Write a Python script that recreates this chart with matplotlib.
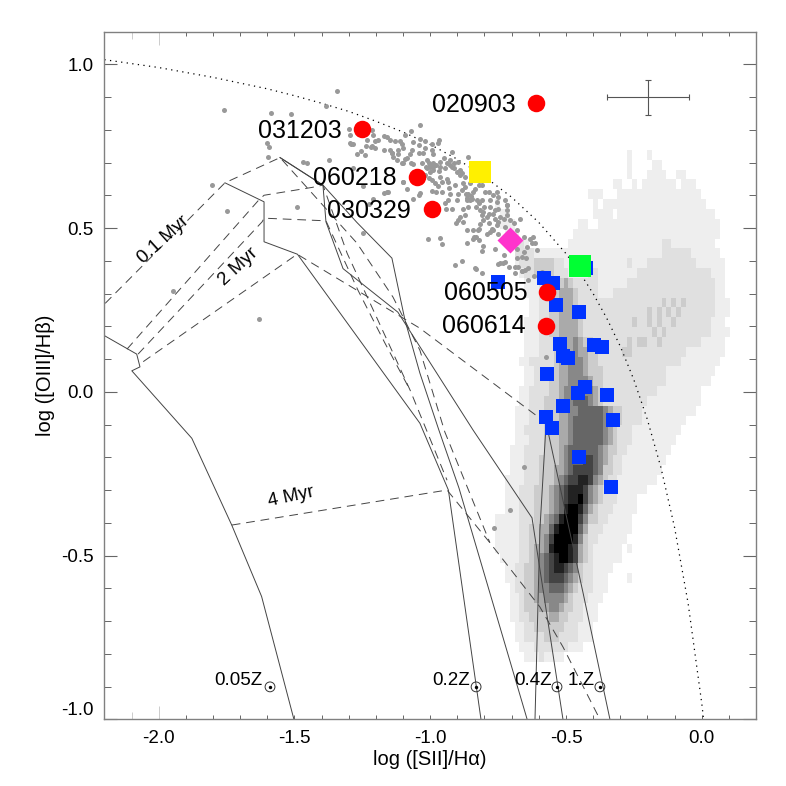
import matplotlib
matplotlib.use("Agg")
import matplotlib.pyplot as plt
from matplotlib.colors import ListedColormap
import numpy as np

plt.rcParams["font.family"] = ["Liberation Sans", "DejaVu Sans"]

grid_x = (-0.761, 0.139)
grid_y = (-0.943, 0.737)
grid_levels = ["#ffffff", "#eeeeee", "#e0e0e0", "#cccccc", "#aaaaaa",
               "#888888", "#666666", "#444444", "#222222", "#000000"]
grid_rows = [
    "0000000000 0000000000 0000000100 0100000000 0000000000",
    "0000000000 0000000000 0000000100 0011000000 0000000000",
    "0000000000 0000000000 0000000100 0111100110 0000000000",
    "0000000000 0000000000 0000110010 1111111011 1000000000",
    "0000000000 0000000001 1100011111 1111111111 1100000000",
    "1000000000 0000000000 1011111111 1111111111 1110000000",
    "0110000000 0000000000 1111011111 1111111111 1111100000",
    "0111000000 0000000110 0111111111 1111111111 1111110000",
    "0011100000 0000001111 1111111111 1111111111 1111110000",
    "0012221000 0000011111 1111111111 1111221111 1111100000",
    "0000222211 1111111111 1111111111 1111222222 1111110000",
    "0000122233 3322111111 1111111211 1222222222 2111111000",
    "0000012233 3322211112 2111111112 2222222222 2222111000",
    "0000001112 2233432222 2111111222 2222222222 2222211000",
    "0000001112 2334443222 2111222222 2222222222 2222211000",
    "0000000112 2334443222 2222222222 2222323232 2222211100",
    "0000000112 2334443322 2222222222 2323232322 2222211100",
    "0000001112 2334444322 2222222232 2323223222 2222111000",
    "0000001112 2334444322 2222222222 2232322222 2222111100",
    "0000001112 2233445433 2222222323 3223222222 2211111000",
    "0000001112 2233445443 3222223322 2222222221 1111111000",
    "0000011222 2234455543 3222222222 2222222211 1111110000",
    "0000001122 2234455543 3322222222 2222211111 1111100000",
    "0000001122 2334455554 3322222222 2222211111 1111000000",
    "0000011222 2334556655 4322222222 2221111111 1100000000",
    "0000011222 3334556665 4322222222 2111111111 1100000000",
    "0000111222 3334455666 6654332222 1111111111 1000000000",
    "0000111222 3334456666 6654332222 1111111110 0000000000",
    "0000112222 3334456666 6654322211 1111111100 0000000000",
    "0000111222 3334456666 6654322211 1111111000 0000000000",
    "0001112222 3334566666 6543322111 1111110000 0000000000",
    "0001112223 3334566677 6543221111 1111100000 0000000000",
    "0001112223 3344567777 6533221111 1111000000 0000000000",
    "0011112223 3345677887 5432211111 1110000000 0000000000",
    "0011122233 3456788875 4322211111 1000000000 0000000000",
    "0011122233 3456788975 4322211110 0000000000 0000000000",
    "0011122233 3456899864 3222111110 0000000000 0000000000",
    "1111122233 4568999753 3221111100 0000000000 0000000000",
    "1111122334 4689999642 2211111100 0000000000 0000000000",
    "1111122334 5799998532 2111111000 0000000000 0000000000",
    "1111122344 5899987432 1111110100 0000000000 0000000000",
    "0111122345 6789987432 1111110000 0000000000 0000000000",
    "0011223345 6788765322 1111000000 0000000000 0000000000",
    "0011223345 6777654322 1110000100 0000000000 0000000000",
    "0001223345 5666543222 1110000000 0000000000 0000000000",
    "0001123344 5555432221 1100000000 0000000000 0000000000",
    "0001123334 4554332211 1000000000 0000000000 0000000000",
    "0001122333 3443322211 1000000000 0000000000 0000000000",
    "0000112233 3333222111 0000000000 0000000000 0000000000",
    "0000112222 3332222111 0000000000 0000000000 0000000000",
    "0000011122 2222211100 0000000000 0000000000 0000000000",
    "0000001112 1111000000 0000000000 0000000000 0000000000",
    "0000000000 0000000000 0000000000 0000000000 0000000000",
    "0000000000 0000000000 0000000000 0000000000 0000000000",
    "0000000000 0000000000 0000000000 0000000000 0000000000",
    "0000000000 0000000000 0000000000 0000000000 0000000000",
]

# grey star-forming dots
dots_x = [-1.037, -1.071, -1.092, -1.172, -1.213, -1.211, -1.203, -1.148, -1.129, -1.111, -1.105, -1.099,
          -1.062, -1.037, -0.966, -0.970, -0.992, -1.019, -1.068, -1.172, -1.219, -1.254, -1.270, -1.291,
          -1.141, -1.138, -1.117, -1.043, -1.025, -0.994, -0.988, -0.920, -1.086, -1.121, -1.102, -1.062,
          -1.013, -0.951, -0.927, -0.896, -0.859, -0.990, -1.003, -1.015, -1.000, -0.988, -0.963, -0.945,
          -0.927, -0.914, -0.902, -0.890, -0.884, -0.966, -1.000, -1.006, -0.994, -0.963, -0.939, -0.957,
          -0.908, -0.929, -0.970, -0.957, -0.994, -0.978, -1.037, -1.043, -1.062, -1.084, -1.099, -1.154,
          -1.172, -1.209, -1.224, -0.878, -0.871, -0.884, -0.896, -0.859, -0.865, -0.850, -0.855, -0.841,
          -0.810, -0.785, -0.767, -0.828, -0.810, -0.822, -0.779, -0.755, -0.749, -0.779, -0.816, -0.804,
          -0.785, -0.792, -0.810, -0.878, -0.933, -0.945, -0.943, -0.890, -0.896, -0.878, -0.904, -0.865,
          -0.843, -0.822, -0.816, -0.785, -0.761, -0.749, -0.730, -0.718, -0.706, -0.755, -0.767, -0.779,
          -0.792, -0.724, -0.831, -0.841, -0.822, -0.863, -0.963, -1.009, -0.957, -0.804, -0.808, -0.761,
          -0.730, -0.706, -0.681, -0.656, -0.663, -0.648, -0.681, -0.675, -0.687, -0.708, -0.724, -0.733,
          -0.749, -0.884, -0.907, -0.831, -0.809, -0.742, -0.650, -0.663, -0.616, -0.638, -0.620, -0.632,
          -1.343, -1.384, -1.759, -1.586, -1.513, -1.299, -1.295, -1.601, -1.594, -1.295, -1.285, -1.236,
          -1.214, -1.597, -1.804, -1.748, -1.491, -1.947, -1.630, -1.469, -1.454, -1.373, -1.284, -1.248,
          -1.203, -1.141, -1.104, -1.070, -1.100, -1.159, -1.248, -0.573, -0.835, -0.742, -0.688, -0.640,
          -0.663, -0.614, -0.607, -0.644, -0.588, -0.669, -0.717, -0.750, -0.655, -0.706, -0.765,
          -0.868, -0.863, -0.846, -0.835, -0.853, -0.822, -0.798, -0.755, -0.724, -0.718, -0.718, -0.742,
          -0.769, -0.800, -0.831, -0.806, -0.825, -0.838, -0.773, -0.749, -0.693, -0.681, -0.656, -0.626,
          -0.761, -1.000, -1.010, -0.988, -0.978, -0.963, -0.939, -0.920, -0.912, -0.890, -0.871, -0.933,
          -0.982, -1.019, -1.031, -1.074, -1.092, -1.117, -1.043, -1.019, -1.148, -1.191, -1.234, -1.240,
          -1.160, -0.927, -0.902, -0.920, -0.859, -0.871]
dots_y = [0.814, 0.796, 0.783, 0.780, 0.798, 0.783, 0.766, 0.768, 0.766, 0.766, 0.756, 0.743,
          0.763, 0.773, 0.768, 0.760, 0.756, 0.743, 0.739, 0.737, 0.748, 0.735, 0.727, 0.758,
          0.729, 0.717, 0.737, 0.730, 0.729, 0.737, 0.727, 0.732, 0.715, 0.707, 0.699, 0.695,
          0.707, 0.714, 0.707, 0.702, 0.717, 0.699, 0.697, 0.685, 0.687, 0.687, 0.687, 0.682,
          0.692, 0.682, 0.671, 0.676, 0.668, 0.674, 0.671, 0.654, 0.646, 0.656, 0.651, 0.641,
          0.631, 0.623, 0.629, 0.610, 0.613, 0.610, 0.607, 0.600, 0.590, 0.618, 0.641, 0.610,
          0.607, 0.589, 0.572, 0.636, 0.626, 0.615, 0.605, 0.605, 0.593, 0.597, 0.585, 0.610,
          0.631, 0.610, 0.600, 0.585, 0.585, 0.575, 0.585, 0.580, 0.559, 0.563, 0.554, 0.549,
          0.544, 0.534, 0.539, 0.559, 0.585, 0.577, 0.559, 0.534, 0.524, 0.519, 0.514, 0.493,
          0.495, 0.498, 0.512, 0.514, 0.529, 0.519, 0.526, 0.539, 0.524, 0.509, 0.493, 0.488,
          0.481, 0.504, 0.473, 0.465, 0.463, 0.453, 0.471, 0.467, 0.450, 0.445, 0.430, 0.437,
          0.419, 0.442, 0.437, 0.427, 0.410, 0.407, 0.407, 0.381, 0.381, 0.381, 0.397, 0.392,
          0.390, 0.400, 0.387, 0.374, 0.363, 0.331, 0.371, 0.368, 0.354, 0.341, 0.473, 0.465,
          0.918, 0.872, 0.859, 0.851, 0.847, 0.801, 0.783, 0.760, 0.746, 0.759, 0.757, 0.750,
          0.750, 0.716, 0.631, 0.551, 0.563, 0.307, 0.222, 0.703, 0.698, 0.709, 0.682, 0.628,
          0.743, 0.728, 0.700, 0.700, 0.640, 0.609, 0.485, 0.106, 0.377, 0.392, 0.362, 0.377,
          0.370, 0.453, 0.432, 0.442, 0.365, 0.527, 0.570, 0.594, -0.229, -0.361, -0.416,
          0.603, 0.587, 0.590, 0.620, 0.636, 0.631, 0.610, 0.610, 0.585, 0.570, 0.554, 0.534,
          0.542, 0.563, 0.563, 0.524, 0.493, 0.473, 0.498, 0.483, 0.514, 0.493, 0.473, 0.453,
          0.554, 0.692, 0.682, 0.676, 0.692, 0.702, 0.699, 0.687, 0.697, 0.661, 0.656, 0.641,
          0.636, 0.661, 0.697, 0.727, 0.712, 0.727, 0.753, 0.766, 0.737, 0.768, 0.768, 0.722,
          0.778, 0.605, 0.585, 0.559, 0.565, 0.539]

# blue squares
blue_x = [-0.749, -0.581, -0.547, -0.427, -0.538, -0.453, -0.522, -0.397, -0.367, -0.512, -0.491,
          -0.570, -0.429, -0.457, -0.350, -0.510, -0.575, -0.328, -0.552, -0.452, -0.335]
blue_y = [0.335, 0.348, 0.333, 0.377, 0.264, 0.243, 0.145, 0.143, 0.136, 0.109, 0.104,
          0.053, 0.015, -0.005, -0.010, -0.043, -0.076, -0.087, -0.110, -0.198, -0.292]

# GRB hosts
grb_names = ["020903", "031203", "060218", "030329", "060505", "060614"]
grb_x = [-0.612, -1.253, -1.049, -0.995, -0.568, -0.573]
grb_y = [0.881, 0.801, 0.657, 0.557, 0.304, 0.202]
grb_label_x = [-0.684, -1.325, -1.122, -1.071, -0.640, -0.647]
grb_label_y = [0.875, 0.795, 0.652, 0.551, 0.301, 0.200]

yellow_x, yellow_y = -0.818, 0.672
magenta_x, magenta_y = -0.706, 0.463
green_x, green_y = -0.448, 0.385

err_x, err_y = -0.198, 0.899
err_dx, err_dy = 0.151, 0.054

# maximum starburst line
limit_x = [-2.2, -2.0, -1.8, -1.6, -1.5, -1.4, -1.3, -1.2, -1.1, -1.0, -0.9, -0.8, -0.7, -0.6, -0.5,
           -0.45, -0.4, -0.35, -0.3, -0.25, -0.2, -0.15, -0.1, -0.05, 0.0, 0.007]
limit_y = [1.014, 0.990, 0.960, 0.925, 0.904, 0.881, 0.856, 0.826, 0.793, 0.755, 0.710, 0.657, 0.594, 0.517, 0.422,
           0.365, 0.300, 0.225, 0.139, 0.037, -0.085, -0.232, -0.414, -0.646, -0.950, -1.0]

# model grid, solid = metallicity tracks
tracks = [
    ([-2.197, -2.081, -2.069, -2.099, -1.878, -1.731, -1.621, -1.502],
     [0.170, 0.115, 0.076, 0.064, -0.142, -0.407, -0.625, -1.0]),
    ([-1.756, -1.612, -1.612, -1.489, -1.038, -0.933, -0.813],
     [0.638, 0.580, 0.458, 0.420, -0.096, -0.300, -1.0]),
    ([-1.553, -1.395, -1.384, -1.321, -1.119, -0.842, -0.625, -0.511],
     [0.715, 0.631, 0.519, 0.376, 0.243, -0.117, -0.385, -1.0]),
    ([-1.553, -1.395, -1.270, -1.141, -1.093, -1.038, -0.968, -0.894, -0.643],
     [0.715, 0.631, 0.517, 0.408, 0.219, 0.057, -0.117, -0.294, -1.0]),
    ([-0.573, -0.596, -0.614], [-0.095, -0.422, -1.0]),
    ([-0.573, -0.437, -0.338], [-0.095, -0.614, -1.0]),
]

# dashed = isochrones
isochrones = [
    ([-2.197, -1.756, -1.553, -1.270, -1.137, -1.038, -0.946, -0.780],
     [0.270, 0.638, 0.715, 0.454, 0.289, 0.127, -0.123, -0.461]),
    ([-2.117, -1.634, -1.612, -1.435, -1.395, -1.306, -1.074, -0.938],
     [0.130, 0.583, 0.600, 0.624, 0.631, 0.423, 0.005, -0.270]),
    ([-2.076, -1.619, -1.612, -1.384, -1.266, -1.167, -1.074],
     [0.115, 0.519, 0.530, 0.522, 0.310, 0.149, 0.005]),
    ([-2.057, -1.490, -1.038, -0.573], [0.092, 0.420, 0.194, -0.095]),
    ([-1.731, -0.938, -0.780, -0.596, -0.511, -0.375], [-0.407, -0.300, -0.461, -0.657, -0.779, -1.0]),
]

age_labels = ["0.1 Myr", "2 Myr", "4 Myr"]
age_x = [-1.984, -1.708, -1.513]
age_y = [0.463, 0.383, -0.321]
age_rot = [42, 43, 12]

metal_labels = ["0.05Z", "0.2Z", "0.4Z", "1.Z"]
metal_x = [-1.590, -0.831, -0.533, -0.375]
metal_y = [-0.901, -0.901, -0.901, -0.901]
metal_label_x = [-1.616, -0.853, -0.553, -0.394]
metal_label_y = [-0.883, -0.883, -0.883, -0.883]

fig = plt.figure(figsize=(7.86, 7.86), dpi=100)
ax = fig.add_axes([104.4 / 786, 1 - 719.3 / 786, (756 - 104.4) / 786, (719.3 - 31.5) / 786])

grid = np.array([[int(c) for c in row.replace(" ", "")] for row in grid_rows])
ax.imshow(grid, extent=[grid_x[0], grid_x[1], grid_y[0], grid_y[1]], aspect="auto",
          cmap=ListedColormap(grid_levels), vmin=-0.5, vmax=9.5, interpolation="nearest", zorder=1)

for tx, ty in tracks:
    ax.plot(tx, ty, color="#444444", lw=0.7, zorder=2)
for ix, iy in isochrones:
    ax.plot(ix, iy, color="#444444", lw=0.7, ls=(0, (9, 6)), zorder=2)
ax.plot(limit_x, limit_y, color="black", lw=0.9, ls=(0, (1, 3.5)), zorder=2)

ax.scatter(dots_x, dots_y, s=13, color="#999999", linewidths=0, zorder=3)
ax.scatter(blue_x, blue_y, s=88, marker="s", color="#0033ff", linewidths=0, zorder=4)
ax.scatter(grb_x, grb_y, s=159, marker="o", color="#ff0000", linewidths=0, zorder=5)
ax.scatter([yellow_x], [yellow_y], s=251, marker="s", color="#fff000", linewidths=0, zorder=5)
ax.scatter([magenta_x], [magenta_y], s=175, marker="D", color="#ff33cc", linewidths=0, zorder=5)
ax.scatter([green_x], [green_y], s=251, marker="s", color="#00ff33", linewidths=0, zorder=5)

ax.errorbar([err_x], [err_y], xerr=[err_dx], yerr=[err_dy], color="#555555", lw=0.8,
            capsize=2.5, capthick=0.8, zorder=3)

for name, lx, ly in zip(grb_names, grb_label_x, grb_label_y):
    ax.text(lx, ly, name, fontsize=18, ha="right", va="center", zorder=6)
for label, lx, ly, rot in zip(age_labels, age_x, age_y, age_rot):
    ax.text(lx, ly, label, fontsize=13.5, ha="center", va="center", rotation=rot, zorder=6)
for label, lx, ly in zip(metal_labels, metal_label_x, metal_label_y):
    ax.text(lx, ly, label, fontsize=13.5, ha="right", va="center", zorder=6)

# sun symbol
ax.scatter(metal_x, metal_y, s=50, marker="o", facecolors="none", edgecolors="#333333", linewidths=0.7, zorder=6)
ax.scatter(metal_x, metal_y, s=6, marker="o", color="black", linewidths=0, zorder=7)

ax.set_xlim(-2.2, 0.2)
ax.set_ylim(-1.0, 1.1)

ax.set_xticks([-2.0, -1.5, -1.0, -0.5, 0.0])
ax.set_xticklabels(["-2.0", "-1.5", "-1.0", "-0.5", "0.0"])
minor_x = [-2.1, -1.9, -1.8, -1.7, -1.6, -1.4, -1.3, -1.2, -1.1, -0.9, -0.8, -0.7, -0.6,
           -0.4, -0.3, -0.2, -0.1, 0.1]
ax.set_xticks(minor_x, minor=True)
ax.set_yticks([-1.0, -0.5, 0.0, 0.5, 1.0])
ax.set_yticklabels(["-1.0", "-0.5", "0.0", "0.5", "1.0"])
ax.get_yticklabels()[0].set_va("bottom")
ax.set_yticks([v / 10 for v in range(-9, 11) if v % 5 != 0], minor=True)

ax.tick_params(axis="x", which="both", direction="in", top=True, length=2.7, width=0.7,
               color="#666666", labelsize=13.5, pad=8)
ax.tick_params(axis="y", which="major", direction="in", right=True, length=9.4, width=0.8,
               color="#666666", labelsize=13.5, pad=8)
ax.tick_params(axis="y", which="minor", direction="in", right=True, length=4.7, width=0.7,
               color="#666666")

# the -2.1 and -2.0 ticks are longer and faint on the original
for t, size in [(ax.xaxis.get_major_ticks()[0], 9.4), (ax.xaxis.get_minor_ticks()[0], 4.7)]:
    for line in (t.tick1line, t.tick2line):
        line.set_markersize(size)
        line.set_markeredgecolor("#cccccc")

for s in ax.spines.values():
    s.set_linewidth(1.0)
    s.set_color("#808080")

ax.set_xlabel("log ([SII]/Hα)", fontsize=14.5, labelpad=2)
ax.set_ylabel("log ([OIII]/Hβ)", fontsize=14.5, labelpad=4)

fig.savefig("out.png", dpi=100)
